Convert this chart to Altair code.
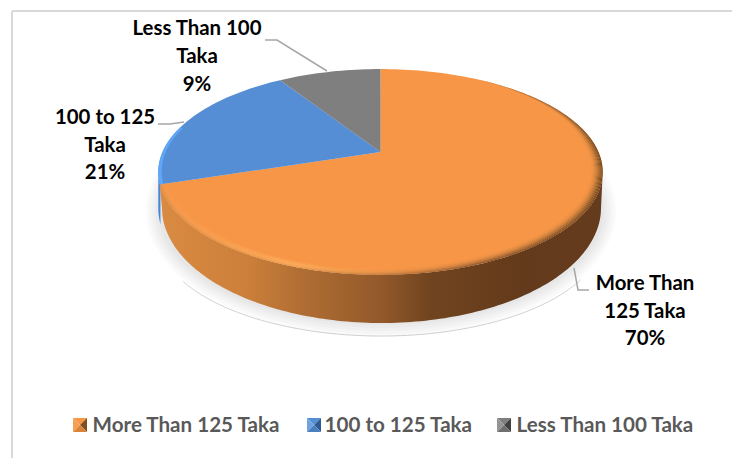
import math
import altair as alt

# Pie content
categories = ["More Than 125 Taka", "100 to 125 Taka", "Less Than 100 Taka"]
shares = [70, 21, 9]
top_colors = ["#F79646", "#558ED5", "#7F7F7F"]

# Slice labels, one row per text line
label_text = [
    "More Than", "125 Taka", f"{shares[0]}%",
    "100 to 125", "Taka", f"{shares[1]}%",
    "Less Than 100", "Taka", f"{shares[2]}%",
]
label_x = [645, 645, 645, 105, 105, 105, 197, 197, 197]
label_y = [284, 312, 339, 118, 146, 173, 29, 57, 85]

# Tilted disc: a perspective view of a circle around the pie's centre
CX, CY = 380.5, 152.0
K = 0.194
A, B = 218.0, 99.0
RX = A / math.sqrt(1 - K * K)
RY = B / (1 - K * K)
EY = CY + K * B / (1 - K * K)


def disc(theta_deg, r=1.0):
    t = math.radians(theta_deg)
    u, v = r * math.sin(t), r * math.cos(t)
    w = 1 + K * v
    return [CX + A * u / w, CY - B * v / w]


def ellipse(cx, cy, rx, ry, a0, a1, n=140):
    pts = []
    for i in range(n + 1):
        a = math.radians(a0 + (a1 - a0) * i / n)
        pts.append([cx + rx * math.cos(a), cy + ry * math.sin(a)])
    return pts


def feature(points, name="", kind="Polygon"):
    if kind == "Polygon":
        geom = {"type": "Polygon", "coordinates": [points + [points[0]]]}
    else:
        geom = {"type": "LineString", "coordinates": points}
    return {"type": "Feature", "properties": {"name": name}, "geometry": geom}


PROJ = dict(type="identity", scale=1, translate=[0, 0])


def gradient(stops):
    return alt.Gradient(
        gradient="linear", x1=0, x2=1, y1=0, y2=0,
        stops=[alt.GradientStop(offset=o, color=c) for o, c in stops],
    )


def shape(points, **mark):
    mark.setdefault("strokeWidth", 0)
    return alt.Chart(alt.Data(values=[feature(points)])).mark_geoshape(**mark).project(**PROJ)


def path(points, color, width, **mark):
    return (
        alt.Chart(alt.Data(values=[feature(points, kind="LineString")]))
        .mark_geoshape(filled=False, stroke=color, strokeWidth=width, **mark)
        .project(**PROJ)
    )


def mix(c0, c1, t):
    a = [int(c0[i:i + 2], 16) for i in (1, 3, 5)]
    b = [int(c1[i:i + 2], 16) for i in (1, 3, 5)]
    return "#" + "".join(f"{round(p + (q - p) * t):02X}" for p, q in zip(a, b))


# Slice angles, clockwise from twelve o'clock
bounds = [0.0]
for s in shares:
    bounds.append(bounds[-1] + 360.0 * s / sum(shares))

layers = []

# Frame of the chart area
frame_color = "#D9D9D9"
layers.append(path([[12, 11], [732, 11]], frame_color, 2))
layers.append(path([[12, 11], [12, 458]], frame_color, 2))

# Soft shadow on the floor
for d in (14, 11, 8, 5, 2):
    layers.append(
        shape(ellipse(381, 211, 221 + d, 112 + d, 0, 360), fill="#000000", fillOpacity=0.02)
    )
layers.append(path(ellipse(381, 236, 222, 100, 26, 153), "#C4C4C4", 0.8))

# Side walls: blue sliver behind, orange in front
WALL_Y, WALL_RY = 208.0, 115.0
blue_wall = ellipse(CX, WALL_Y, RX, WALL_RY, 172, 180, 12) + ellipse(CX, EY, RX, RY, 180, 172, 12)
layers.append(shape(blue_wall, fill="#4A86D8"))

top_rim = ellipse(CX, EY, RX, RY, 0, 174)
low_rim = ellipse(381.5, WALL_Y, 219.5, WALL_RY, 0, 180)
wall_stops = [
    (0.0, "#DA8B42"), (0.2, "#CB7F3A"), (0.32, "#B06E33"), (0.5, "#93592A"),
    (0.61, "#70441F"), (0.82, "#633A1B"), (1.0, "#643B1C"),
]
layers.append(shape(top_rim + low_rim[::-1], fill=gradient(wall_stops)))

# Flat top faces, drawn with the categorical colour scale that feeds the legend.
# The legend keeps its labels; its keys are the shaded squares drawn further down.
wedges = []
for i, name in enumerate(categories):
    a0, a1 = bounds[i], bounds[i + 1]
    n = max(8, int((a1 - a0) / 1.5))
    arc = [disc(a0 + (a1 - a0) * j / n) for j in range(n + 1)]
    wedges.append(feature([[CX, CY]] + arc, name))

layers.append(
    alt.Chart(alt.Data(values=wedges))
    .mark_geoshape(strokeWidth=0)
    .encode(
        color=alt.Color(
            "properties.name:N",
            scale=alt.Scale(domain=categories, range=top_colors),
            sort=categories,
            legend=alt.Legend(
                orient="none",
                legendX=71,
                legendY=416,
                direction="horizontal",
                columns=3,
                title=None,
                labelFont="Lato",
                labelFontSize=20.6,
                labelFontWeight="bold",
                labelColor="#595959",
                labelLimit=260,
                symbolType="square",
                symbolSize=150,
                symbolOpacity=0,
                symbolStrokeWidth=0,
                labelOffset=1,
                columnPadding=22,
            ),
        )
    )
    .project(**PROJ)
)


def ring(a0, a1, r_out, r_in, fade_deg=0.0, n=140):
    outer, inner = [], []
    for j in range(n + 1):
        a = a0 + (a1 - a0) * j / n
        f = min(1.0, (a - a0) / fade_deg) if fade_deg else 1.0
        outer.append(disc(a, 1 - (1 - r_out) * f))
        inner.append(disc(a, 1 - (1 - r_in) * f))
    return outer + inner[::-1]


# Bevel along the front rim of the orange slice, finely graded from edge to face
bevel_offsets = [0, 0.3, 0.5, 0.72, 1]
bevel_profile = [
    ["#E08A40", "#E89A4E", "#B0703A", "#70451F", "#6B3E1E"],
    ["#F09A50", "#FDB060", "#DC8D48", "#A8683A", "#8A5A28"],
    ["#F79646", "#FCAA5A", "#F19548", "#D58540", "#C07A38"],
    ["#F79646", "#F79646", "#F79646", "#F09348", "#EA8F44"],
    ["#F79646", "#F79646", "#F79646", "#F79646", "#F79646"],
]
steps = 3
band = 0.0135 / steps
for level in range(len(bevel_profile) - 1):
    for s in range(steps):
        t = (s + 0.5) / steps
        r_out = 1 - (level * steps + s) * band
        stops = [
            (o, mix(p, q, t))
            for o, p, q in zip(bevel_offsets, bevel_profile[level], bevel_profile[level + 1])
        ]
        layers.append(shape(ring(30, bounds[1], r_out, r_out - band, 55), fill=gradient(stops)))

# Lighter edge on the blue slice
layers.append(shape(ring(bounds[1], 285, 1.0, 0.985), fill="#5EA6F7"))

# Leader lines
leader_color = "#A6A6A6"
layers.append(path([[265, 40], [277, 40], [327, 71]], leader_color, 1.5))
layers.append(path([[158, 124], [170, 124], [184, 122]], leader_color, 1.5))
layers.append(path([[574, 268], [578, 290], [589, 290]], leader_color, 1.5))

# Slice labels
labels = [{"t": t, "x": x, "y": y} for t, x, y in zip(label_text, label_x, label_y)]
layers.append(
    alt.Chart(alt.Data(values=labels))
    .mark_text(font="Lato", fontSize=20.4, fontWeight="bold", color="#000000", align="center", baseline="middle")
    .encode(
        x=alt.X("x:Q", scale=alt.Scale(domain=[0, 732], range=[0, 732]), axis=None),
        y=alt.Y("y:Q", scale=alt.Scale(domain=[0, 458], range=[0, 458]), axis=None),
        text="t:N",
    )
)

# Pyramid shading on the legend keys
swatch_left = [73, 307, 497]
swatch_shades = [
    ["#F79646", "#F5A050", "#7F4F20", "#D88338"],
    ["#558ED5", "#6FA3E0", "#2F5A8F", "#4A7FC2"],
    ["#7F7F7F", "#959595", "#404040", "#6F6F6F"],
]
for left, shades in zip(swatch_left, swatch_shades):
    x0, x1, y0, y1 = left, left + 14, 418, 432
    mid = [(x0 + x1) / 2, (y0 + y1) / 2]
    corners = [[x0, y0], [x1, y0], [x1, y1], [x0, y1]]
    tris = [
        [corners[0], corners[1], mid],
        [corners[3], corners[0], mid],
        [corners[1], corners[2], mid],
        [corners[2], corners[3], mid],
    ]
    for tri, shade in zip(tris, shades):
        layers.append(shape(tri, fill=shade))

chart = (
    alt.layer(*layers)
    .properties(width=732, height=458, padding=0, autosize=alt.AutoSizeParams(type="none"), background="#FFFFFF")
    .configure_view(stroke=None)
)

chart.save("out.html", embed_options={"renderer": "svg", "actions": False})
